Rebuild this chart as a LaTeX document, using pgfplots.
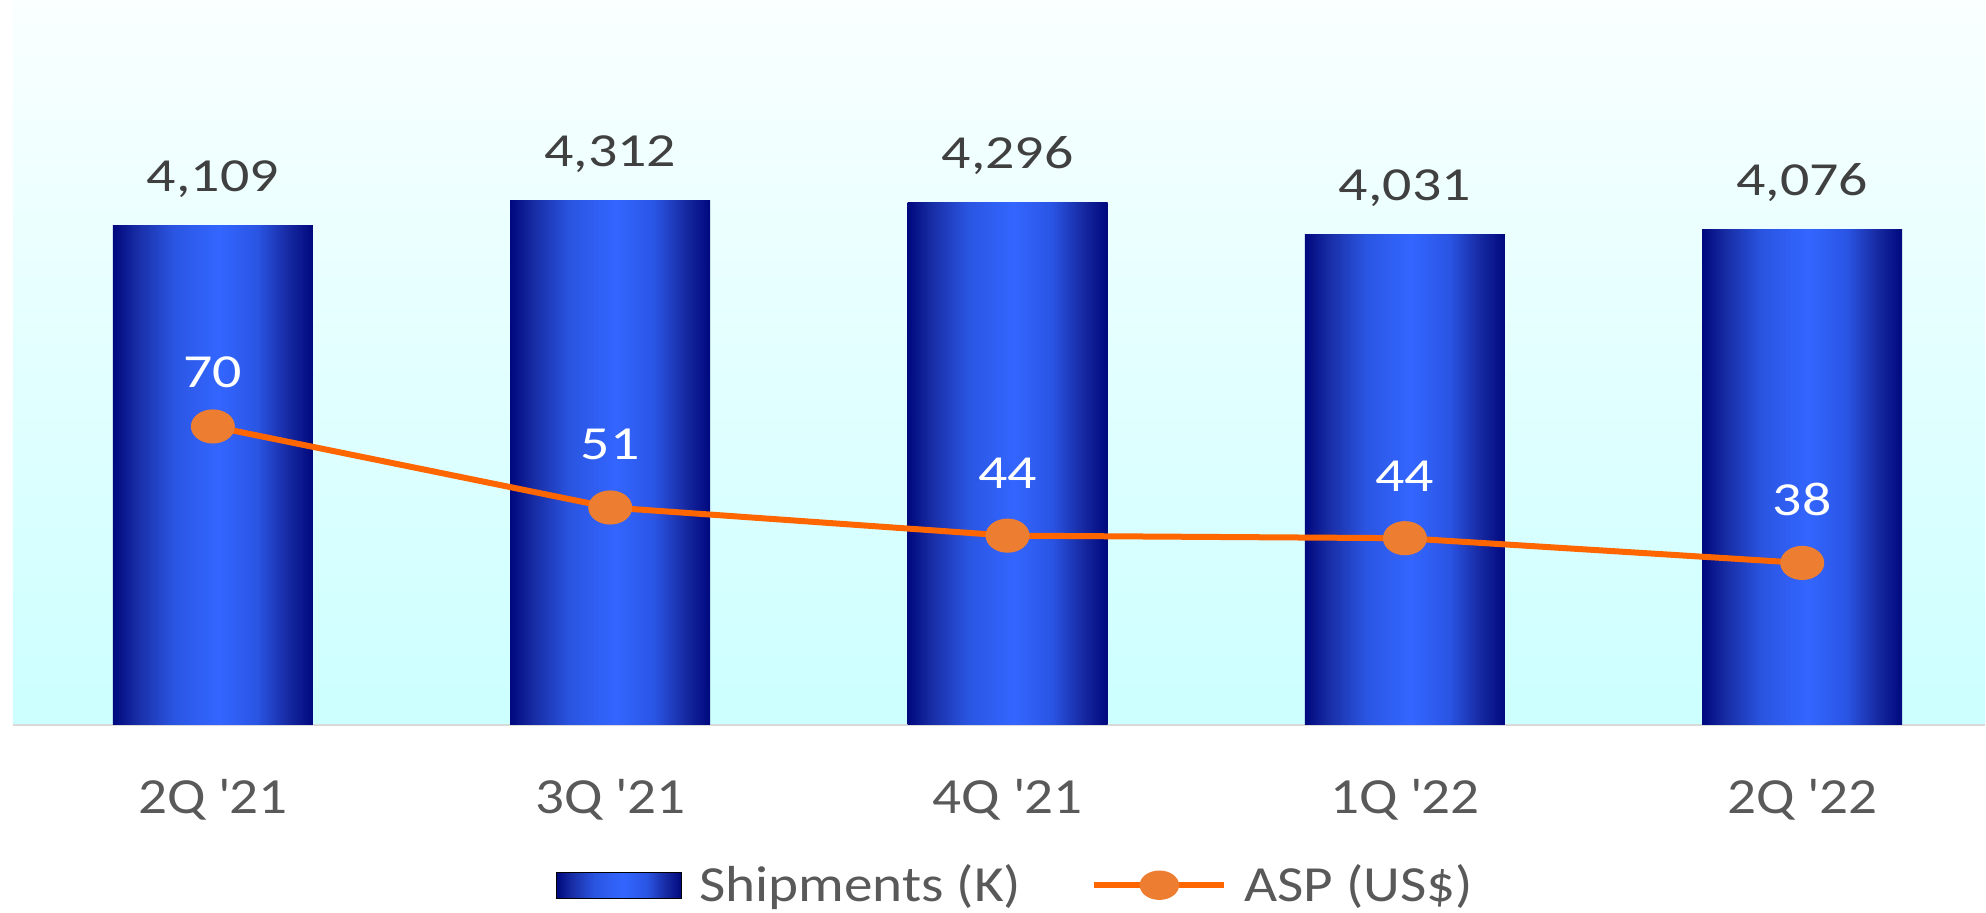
\documentclass[border=0pt]{standalone}
\usepackage{pgfplots}
\usepackage{pgfplotstable}
\pgfplotsset{compat=1.18}
\usepackage{fontspec}
\setmainfont{Carlito}
\newfontfamily\lblfont{Carlito}[FakeStretch=1.22]
\newfontfamily\tickfont{Carlito}[FakeStretch=1.13]

\definecolor{navyend}{RGB}{0,8,125}
\definecolor{navyA}{RGB}{24,45,165}
\definecolor{blueA}{RGB}{42,85,225}
\definecolor{bluetop}{RGB}{51,102,255}
\definecolor{blueB}{RGB}{42,85,228}
\definecolor{navyB}{RGB}{22,40,160}
\definecolor{bgtop}{RGB}{250,255,255}
\definecolor{bgbot}{RGB}{204,255,255}
\definecolor{aspline}{RGB}{255,102,0}
\definecolor{aspmark}{RGB}{237,125,49}
\definecolor{lblgray}{RGB}{64,64,64}
\definecolor{tickgray}{RGB}{89,89,89}
\definecolor{basegray}{RGB}{217,217,217}

% bar fill: dark edges, bright centre (visible part is 25bp..75bp)
\pgfdeclarehorizontalshading{barshade}{100bp}{%
  color(0bp)=(navyend); color(25bp)=(navyend); color(31bp)=(navyA);
  color(40bp)=(blueA); color(51.5bp)=(bluetop); color(61bp)=(blueB);
  color(69bp)=(navyB); color(75bp)=(navyend); color(100bp)=(navyend)}

\pgfplotsset{
  aspstyle/.style={aspline, line width=0.06cm, mark=*, mark size=4pt,
    mark options={fill=aspmark, draw=aspmark, xscale=1.35}},
  aspleg/.style={legend image code/.code={%
    \draw[aspline, line width=0.06cm] (0cm,0cm) -- (1.3cm,0cm);
    \fill[aspmark] (0.65cm,0cm) ellipse [x radius=0.19cm, y radius=0.14cm];}},
  barleg/.style={legend image code/.code={%
    \shade[shading=barshade] (0cm,-0.13cm) rectangle (1.25cm,0.13cm);}},
}

\pgfplotstableread{
x ship
0 4109
1 4312
2 4296
3 4031
4 4076
}\shiptable

\pgfplotstableread{
x asp dy
0 70 0.39
1 51 0.48
2 44.4 0.47
3 43.8 0.47
4 38 0.47
}\asptable

\begin{document}
\begin{tikzpicture}
\useasboundingbox (0,0) rectangle (19.86cm,9.13cm);

\begin{axis}[
  at={(0.13cm,1.88cm)}, anchor=south west,
  width=19.72cm, height=7.25cm, scale only axis,
  xmin=-0.503, xmax=4.46, ymin=0, ymax=5960,
  enlargelimits=false, clip=false,
  axis y line=none, axis x line=bottom,
  x axis line style={-, draw=basegray, line width=0.6pt},
  axis background/.style={top color=bgtop, bottom color=bgbot},
  xtick={0,...,4}, xtick style={draw=none},
  xticklabels={2Q \textquotesingle21, 3Q \textquotesingle21, 4Q \textquotesingle21, 1Q \textquotesingle22, 2Q \textquotesingle22},
  xticklabel style={font=\tickfont\fontsize{14.4}{17}\selectfont, text=tickgray, anchor=base, yshift=-0.74cm},
  ytick=\empty,
  ybar, bar width=2cm,
  nodes near coords={\pgfmathprintnumber[assume math mode=true,fixed,precision=0,1000 sep={,}]{\pgfplotspointmeta}},
  every node near coord/.append style={font=\lblfont\fontsize{13.5}{16}\selectfont, text=lblgray, anchor=base, yshift=0.34cm},
  legend columns=2,
  legend cell align=left,
  legend style={at={(0.5096,-0.221)}, anchor=center, draw=none, fill=none,
    font=\tickfont\fontsize{14.4}{17}\selectfont, text=tickgray,
    /tikz/every odd column/.append style={column sep=0.1cm},
    /tikz/every even column/.append style={column sep=0.63cm}},
]
% one plot per bar so that each bar gets its own shading
\pgfplotsinvokeforeach{0,...,4}{
  \addplot[draw=none, shade, shading=barshade, bar shift=0pt, forget plot,
    restrict x to domain=#1:#1]
    table[x=x,y=ship] {\shiptable};
}
\addlegendimage{barleg}
\addlegendentry{Shipments (K)}
\addlegendimage{aspleg}
\addlegendentry{ASP (US\$)}
\end{axis}

\begin{axis}[
  at={(0.13cm,1.88cm)}, anchor=south west,
  width=19.72cm, height=7.25cm, scale only axis,
  xmin=-0.503, xmax=4.46, ymin=0, ymax=170,
  enlargelimits=false, clip=false, hide axis,
]
\addplot[aspstyle,
  visualization depends on=\thisrow{dy}\as\dy,
  nodes near coords={\pgfmathprintnumber[assume math mode=true,fixed,precision=0]{\pgfplotspointmeta}},
  every node near coord/.append style={font=\lblfont\fontsize{13.5}{16}\selectfont, text=white, anchor=base, yshift=\dy cm}]
  table[x=x,y=asp] {\asptable};
\end{axis}
\end{tikzpicture}
\end{document}
